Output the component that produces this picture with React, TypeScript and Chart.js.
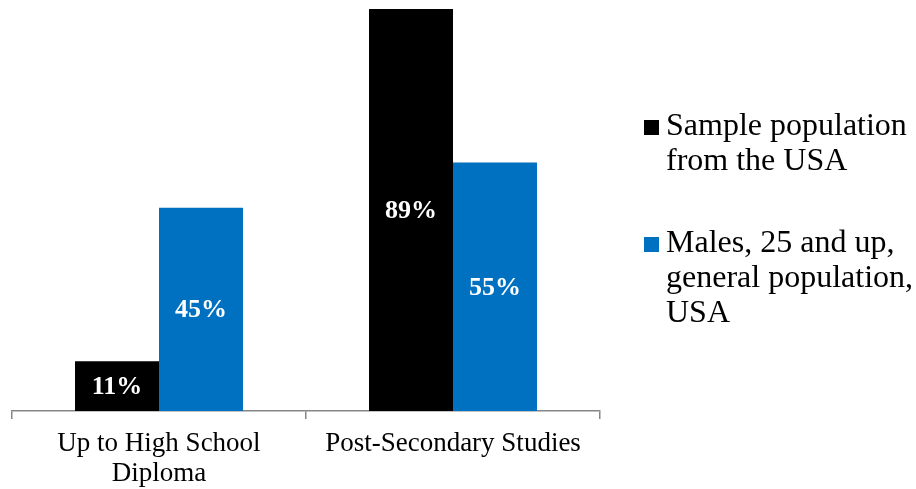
import React, { useEffect, useRef } from "react";
import { Chart, registerables } from "chart.js";

Chart.register(...registerables);

// Education level: sample vs. general male population (percent)
const CATEGORIES: (string | string[])[] = [["Up to High School", "Diploma"], "Post-Secondary Studies"];
const SAMPLE_USA = [11, 89];
const MALES_25_UP_USA = [45, 55];
const SERIES_LINES: string[][] = [
  ["Sample population", "from the USA"],
  ["Males, 25 and up,", "general population,", "USA"],
];
const SERIES_COLORS = ["#000000", "#0070C0"];

const SERIF = "'Liberation Serif', 'Times New Roman', serif";

// White bold percentage centered inside every bar
const barValueLabels = {
  id: "barValueLabels",
  afterDatasetsDraw(chart: any) {
    const ctx = chart.ctx;
    ctx.save();
    ctx.fillStyle = "#ffffff";
    ctx.font = `bold 26px ${SERIF}`;
    ctx.textAlign = "center";
    ctx.textBaseline = "middle";
    chart.data.datasets.forEach((ds: any, di: number) => {
      const meta = chart.getDatasetMeta(di);
      meta.data.forEach((bar: any, i: number) => {
        const { x, y, base } = bar.getProps(["x", "y", "base"], true);
        ctx.fillText(`${ds.data[i]}%`, x, (y + base) / 2 + 1);
      });
    });
    ctx.restore();
  },
};

// Legend on the right with wrapped, multi-line entries
const sideLegend = {
  id: "sideLegend",
  afterDraw(chart: any) {
    const ctx = chart.ctx;
    const area = chart.chartArea;
    const boxX = area.right + 44;
    const textX = boxX + 22;
    const lineH = 35;
    const entryGap = 47;
    let baseline = 135;
    ctx.save();
    ctx.font = `32px ${SERIF}`;
    ctx.textAlign = "left";
    ctx.textBaseline = "alphabetic";
    SERIES_LINES.forEach((lines, i) => {
      ctx.fillStyle = SERIES_COLORS[i];
      ctx.fillRect(boxX, baseline - 15, 15, 15);
      ctx.fillStyle = "#000000";
      lines.forEach((line, j) => {
        ctx.fillText(line, textX, baseline + j * lineH);
      });
      baseline += lines.length * lineH + entryGap;
    });
    ctx.restore();
  },
};

export default function App() {
  const canvasRef = useRef<HTMLCanvasElement | null>(null);

  useEffect(() => {
    if (!canvasRef.current) return;
    const chart = new Chart(canvasRef.current, {
      type: "bar",
      data: {
        labels: CATEGORIES as any,
        datasets: [
          {
            label: SERIES_LINES[0].join(" "),
            data: SAMPLE_USA,
            backgroundColor: SERIES_COLORS[0],
            categoryPercentage: 0.5714,
            barPercentage: 1,
          },
          {
            label: SERIES_LINES[1].join(" "),
            data: MALES_25_UP_USA,
            backgroundColor: SERIES_COLORS[1],
            categoryPercentage: 0.5714,
            barPercentage: 1,
          },
        ],
      },
      options: {
        animation: false,
        responsive: false,
        maintainAspectRatio: false,
        layout: { padding: { left: 12, right: 316, top: 9, bottom: 0 } },
        plugins: {
          legend: { display: false },
          tooltip: { enabled: false },
          title: { display: false },
        },
        scales: {
          x: {
            offset: true,
            grid: {
              display: true,
              offset: true,
              drawOnChartArea: false,
              drawTicks: true,
              tickLength: 8,
              color: "#868686",
              lineWidth: 1.5,
            },
            border: { display: true, color: "#868686", width: 1.5 },
            ticks: {
              color: "#000000",
              padding: 10,
              maxRotation: 0,
              autoSkip: false,
              font: { family: SERIF, size: 27, lineHeight: 1.1 },
            },
            afterFit(scale: any) {
              scale.height = 78;
            },
          },
          y: {
            display: false,
            min: 0,
            max: 89,
          },
        },
      },
      plugins: [barValueLabels, sideLegend],
    });
    return () => chart.destroy();
  }, []);

  return (
    <div style={{ position: "fixed", left: 0, top: 0, width: 916, height: 489, background: "#ffffff" }}>
      <canvas ref={canvasRef} width={916} height={489} style={{ display: "block" }} />
    </div>
  );
}
